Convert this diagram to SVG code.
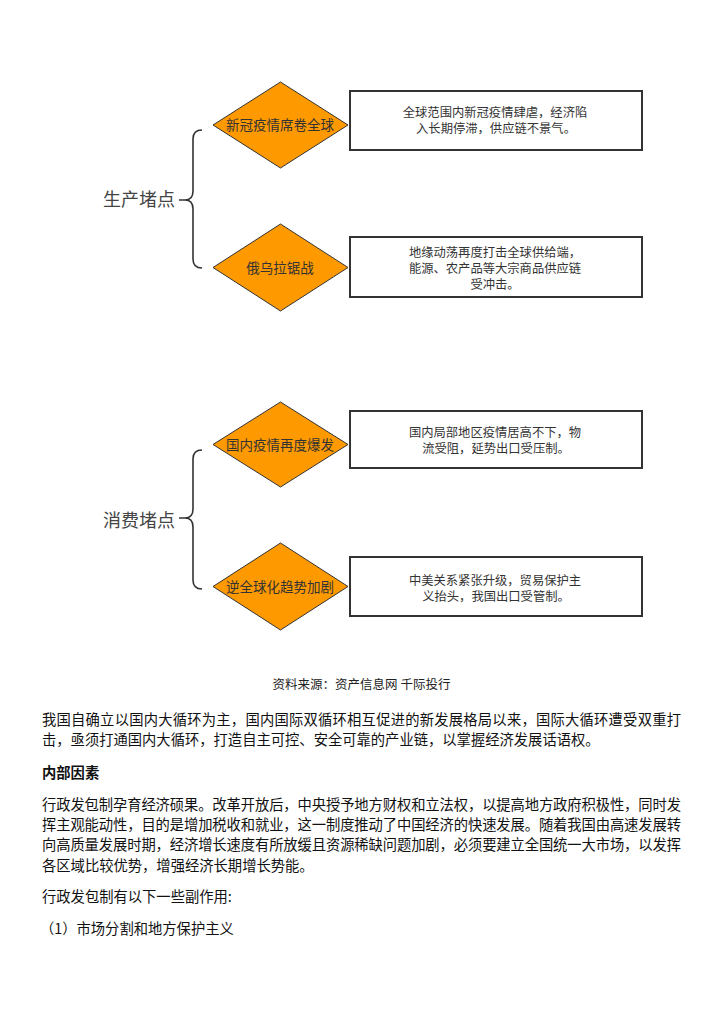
<svg xmlns="http://www.w3.org/2000/svg" width="724" height="1024" viewBox="0 0 724 1024">
<style>
.dia{fill:#FF9900;stroke:#333;stroke-width:1}
.box{fill:#fff;stroke:#333;stroke-width:2}
.brace{fill:none;stroke:#333;stroke-width:1.6}
.dl{font-family:"Noto Sans CJK SC",sans-serif;font-size:13.5px;fill:#333;text-anchor:middle}
.bt{font-family:"Noto Sans CJK SC",sans-serif;font-size:12.3px;fill:#333;text-anchor:middle}
.hd{font-family:"Noto Sans CJK SC",sans-serif;font-size:18px;fill:#444}
.cap{font-family:"Noto Sans CJK SC",sans-serif;font-size:12.5px;fill:#222;text-anchor:middle}
.p{font-family:"Noto Sans CJK SC",sans-serif;font-size:14.3px;fill:#111}
.b{font-weight:bold}
</style>
<rect width="724" height="1024" fill="#fff"/>
<g id="connectors">
<path class="brace" d="M202 130 Q193 130 193 139 L193 191 Q193 200 185 200 L179 200 M185 200 Q193 200 193 209 L193 259 Q193 268 202 268"/>
<path class="brace" d="M202 450 Q193 450 193 459 L193 509 Q193 518 185 518 L179 518 M185 518 Q193 518 193 527 L193 580 Q193 589 202 589"/>
</g>
<g id="h1"><text class="hd" x="103" y="206">生产堵点</text></g>
<g id="h2"><text class="hd" x="103" y="527">消费堵点</text></g>
<g id="d1"><polygon class="dia" points="280.5,82 348,125 280.5,168 213,125"/><text class="dl" x="280" y="130">新冠疫情席卷全球</text></g>
<g id="d2"><polygon class="dia" points="280.5,224 348,267.5 280.5,311 213,267.5"/><text class="dl" x="280" y="272.5">俄乌拉锯战</text></g>
<g id="d3"><polygon class="dia" points="280.5,402 348,444.5 280.5,487 213,444.5"/><text class="dl" x="280" y="449.5">国内疫情再度爆发</text></g>
<g id="d4"><polygon class="dia" points="280.5,543 348,586.5 280.5,630 213,586.5"/><text class="dl" x="280" y="591.5">逆全球化趋势加剧</text></g>
<g id="b1"><rect class="box" x="350" y="91" width="292" height="59"/><text class="bt" x="495" y="117">全球范围内新冠疫情肆虐，经济陷</text><text class="bt" x="496" y="133">入长期停滞，供应链不景气。</text></g>
<g id="b2"><rect class="box" x="350" y="237" width="292" height="60"/><text class="bt" x="495" y="256.5">地缘动荡再度打击全球供给端，</text><text class="bt" x="495" y="272.5">能源、农产品等大宗商品供应链</text><text class="bt" x="495" y="288.5">受冲击。</text></g>
<g id="b3"><rect class="box" x="350" y="411" width="292" height="57"/><text class="bt" x="495" y="437">国内局部地区疫情居高不下，物</text><text class="bt" x="496" y="453">流受阻，延势出口受压制。</text></g>
<g id="b4"><rect class="box" x="350" y="557" width="292" height="59"/><text class="bt" x="495" y="584.5">中美关系紧张升级，贸易保护主</text><text class="bt" x="496" y="600.5">义抬头，我国出口受管制。</text></g>
<g id="caption"><text class="cap" x="361.5" y="688.5">资料来源：资产信息网 千际投行</text></g>
<g id="body">
<text class="p" x="42" y="725" textLength="639" lengthAdjust="spacing">我国自确立以国内大循环为主，国内国际双循环相互促进的新发展格局以来，国际大循环遭受双重打</text>
<text class="p" x="42" y="745">击，亟须打通国内大循环，打造自主可控、安全可靠的产业链，以掌握经济发展话语权。</text>
<text class="p b" x="42" y="778">内部因素</text>
<text class="p" x="42" y="810" textLength="639" lengthAdjust="spacing">行政发包制孕育经济硕果。改革开放后，中央授予地方财权和立法权，以提高地方政府积极性，同时发</text>
<text class="p" x="42" y="830" textLength="639" lengthAdjust="spacing">挥主观能动性，目的是增加税收和就业，这一制度推动了中国经济的快速发展。随着我国由高速发展转</text>
<text class="p" x="42" y="850" textLength="639" lengthAdjust="spacing">向高质量发展时期，经济增长速度有所放缓且资源稀缺问题加剧，必须要建立全国统一大市场，以发挥</text>
<text class="p" x="42" y="871">各区域比较优势，增强经济长期增长势能。</text>
<text class="p" x="42" y="902">行政发包制有以下一些副作用:</text>
<text class="p" x="40" y="934">（1）市场分割和地方保护主义</text>
</g>
</svg>
